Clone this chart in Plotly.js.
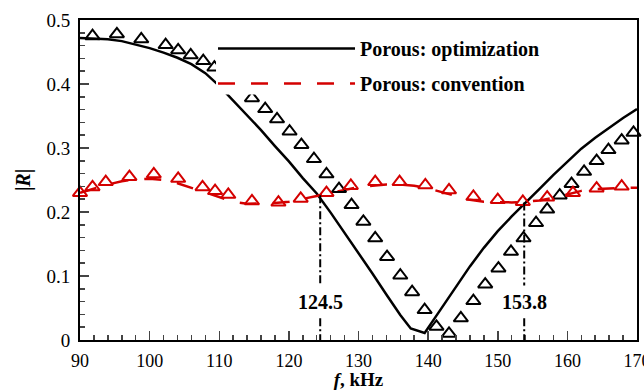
<!DOCTYPE html>
<html>
<head>
<meta charset="utf-8">
<script src="https://cdn.plot.ly/plotly-3.0.1.min.js"></script>
<style>html,body{margin:0;padding:0;background:#fff;}#chart{width:644px;height:390px;}</style>
</head>
<body>
<div id="chart"></div>
<script>
// ---- data ----
const optF = [90, 92, 94, 96, 98, 100, 102, 104, 106, 108, 110, 112, 114, 116, 118, 120, 122, 124, 126, 128, 130, 132, 134, 136, 137.5, 139.5, 141, 142, 143, 144, 146, 148, 150, 152, 154, 156, 158, 160, 162, 164, 166, 168, 170];
const optR = [0.472, 0.471, 0.470, 0.467, 0.462, 0.456, 0.449, 0.441, 0.431, 0.417, 0.397, 0.374, 0.352, 0.328, 0.303, 0.279, 0.253, 0.229, 0.199, 0.168, 0.137, 0.104, 0.071, 0.039, 0.018, 0.011, 0.035, 0.051, 0.068, 0.084, 0.115, 0.144, 0.170, 0.193, 0.214, 0.236, 0.258, 0.279, 0.299, 0.316, 0.332, 0.347, 0.361];

const convF = [90, 92, 94, 96, 98, 100, 102, 104, 106, 108, 110, 112, 114, 116, 118, 120, 122, 124, 126, 128, 130, 132, 134, 136, 138, 140, 142, 144, 146, 148, 150, 152, 154, 156, 158, 160, 162, 164, 166, 168, 170];
const convR = [0.230, 0.237, 0.243, 0.248, 0.251, 0.252, 0.250, 0.245, 0.238, 0.230, 0.224, 0.216, 0.213, 0.213, 0.214, 0.216, 0.220, 0.225, 0.230, 0.235, 0.239, 0.241, 0.243, 0.243, 0.241, 0.237, 0.231, 0.225, 0.219, 0.216, 0.215, 0.215, 0.216, 0.218, 0.222, 0.228, 0.233, 0.236, 0.237, 0.238, 0.238];

const optTriF = [91.8, 95.3, 98.8, 102.3, 104.1, 105.9, 107.7, 109.3, 111.1, 112.9, 114.7, 116.6, 118.3, 120.1, 121.8, 123.6, 125.4, 127.2, 129.0, 130.7, 132.4, 134.1, 136.0, 137.7, 139.5, 141.2, 143.0, 144.7, 146.5, 148.2, 150.1, 151.9, 153.7, 155.5, 157.1, 158.9, 160.6, 162.4, 164.2, 165.9, 167.8, 169.5];
const optTriR = [0.475, 0.478, 0.470, 0.461, 0.453, 0.445, 0.436, 0.426, 0.412, 0.395, 0.378, 0.361, 0.345, 0.326, 0.305, 0.283, 0.259, 0.236, 0.211, 0.185, 0.159, 0.130, 0.101, 0.075, 0.047, 0.021, 0.010, 0.034, 0.061, 0.087, 0.112, 0.138, 0.159, 0.183, 0.204, 0.226, 0.244, 0.263, 0.280, 0.297, 0.312, 0.324];

const convTriF = [90.0, 91.8, 93.7, 97.1, 100.6, 104.1, 107.6, 109.4, 111.3, 114.7, 118.5, 121.7, 125.4, 128.9, 132.4, 135.9, 139.6, 143.0, 146.5, 150.0, 153.6, 157.1, 160.8, 164.2, 167.8];
const convTriR = [0.230, 0.239, 0.247, 0.255, 0.259, 0.252, 0.239, 0.233, 0.227, 0.217, 0.215, 0.221, 0.230, 0.241, 0.247, 0.247, 0.242, 0.234, 0.224, 0.219, 0.216, 0.223, 0.230, 0.237, 0.240];

const markF = [124.5, 153.8];
const markTop = [0.226, 0.215];
const markLabels = ['124.5', '153.8'];

const xTickVals = [90, 100, 110, 120, 130, 140, 150, 160, 170];
const yTickVals = [0, 0.1, 0.2, 0.3, 0.4, 0.5];
const yTickText = ['0', '0.1', '0.2', '0.3', '0.4', '0.5'];

// ---- styling ----
const FONT = '"Liberation Serif", "Times New Roman", serif';
const RED = '#d40000';
const gapTop = 0.085, gapBottom = 0.034, labelY = 0.059;

const traces = [
  {x: optF, y: optR, mode: 'lines', name: '<b>Porous: optimization</b>',
   line: {color: '#000', width: 2.5}, legend: 'legend'},
  {x: convF, y: convR, mode: 'lines', name: '<b>Porous: convention</b>',
   line: {color: RED, width: 2.5, dash: '17px,16px'}, legend: 'legend2'},
  {x: optTriF, y: optTriR, mode: 'markers', showlegend: false, cliponaxis: false,
   marker: {symbol: 'triangle-up-open', size: 12.5, color: '#000', line: {width: 2, color: '#000'}}},
  {x: convTriF, y: convTriR, mode: 'markers', showlegend: false, cliponaxis: false,
   marker: {symbol: 'triangle-up-open', size: 12.5, color: RED, line: {width: 2, color: RED}}}
];
markF.forEach((f, i) => {
  traces.push({x: [f, f, null, f, f], y: [markTop[i], gapTop, null, gapBottom, 0],
    mode: 'lines', showlegend: false, hoverinfo: 'skip',
    line: {color: '#000', width: 2, dash: '8px,3px,2px,3px'}});
});

const annotations = markF.map((f, i) => ({
  x: f, y: labelY, xref: 'x', yref: 'y', text: '<b>' + markLabels[i] + '</b>',
  showarrow: false, font: {family: FONT, size: 20, color: '#000'}
}));

const legendBase = {
  xanchor: 'left', yanchor: 'middle', bgcolor: 'rgba(0,0,0,0)', borderwidth: 0,
  itemwidth: 137, font: {family: FONT, size: 20, color: '#000'}, x: 0.2388
};

const layout = {
  width: 644, height: 390,
  margin: {l: 80, r: 7, t: 20, b: 50},
  paper_bgcolor: '#fff', plot_bgcolor: '#fff',
  font: {family: FONT, size: 19, color: '#000'},
  showlegend: true,
  legend: Object.assign({}, legendBase, {y: 0.911}),
  legend2: Object.assign({}, legendBase, {y: 0.8016}),
  xaxis: {
    range: [90, 170], tickvals: xTickVals, ticks: 'inside', ticklen: 9, tickwidth: 1.5,
    showline: true, linewidth: 2, linecolor: '#000', mirror: true, showgrid: false, zeroline: false,
    tickfont: {family: FONT, size: 18}, ticklabelstandoff: 3, ticklabeloverflow: 'allow',
    minor: {dtick: 2, ticks: 'inside', ticklen: 5, tickwidth: 1.5, showgrid: false},
    title: {text: '<b><i>f</i>, kHz</b>', font: {family: FONT, size: 19}, standoff: 11}
  },
  yaxis: {
    range: [0, 0.5], tickvals: yTickVals, ticktext: yTickText, ticks: 'inside', ticklen: 9, tickwidth: 1.5,
    showline: true, linewidth: 2, linecolor: '#000', mirror: true, showgrid: false, zeroline: false,
    tickfont: {family: FONT, size: 19}, ticklabelstandoff: 4,
    minor: {dtick: 0.02, ticks: 'inside', ticklen: 5, tickwidth: 1.5, showgrid: false},
    title: {text: '<b>|<i>R</i>|</b>', font: {family: FONT, size: 20}, standoff: 10}
  },
  shapes: [{type: 'rect', xref: 'paper', yref: 'paper', x0: 0.2442, x1: 0.995, y0: 0.767, y1: 0.994,
    fillcolor: '#fff', line: {width: 0}, layer: 'above'}],
  annotations: annotations
};

Plotly.newPlot('chart', traces, layout, {displayModeBar: false, staticPlot: true});
</script>
</body>
</html>
